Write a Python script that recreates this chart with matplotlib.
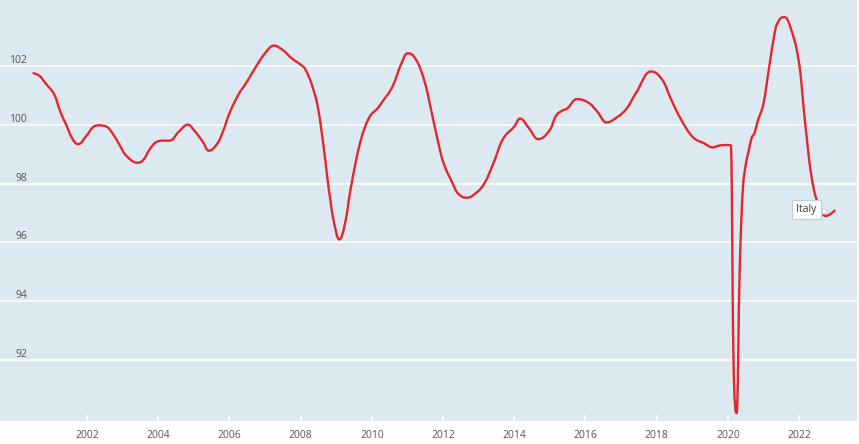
import pandas as pd
import matplotlib
matplotlib.use("Agg")
import matplotlib.pyplot as plt
import matplotlib.dates as mdates
from matplotlib import transforms
from matplotlib.path import Path
from matplotlib.patches import PathPatch

# monthly readings taken off the reference chart (Italy)
months = [
    "2000-07", "2000-09", "2000-11", "2001-02", "2001-04", "2001-06", "2001-08", "2001-10",
    "2002-01", "2002-03", "2002-05", "2002-08", "2002-10", "2002-12", "2003-02", "2003-06",
    "2003-08", "2003-10", "2003-12", "2004-03", "2004-05", "2004-08", "2004-11", "2005-01",
    "2005-04", "2005-06", "2005-09", "2005-11", "2006-01", "2006-04", "2006-07", "2006-10",
    "2007-01", "2007-04", "2007-07", "2007-10", "2008-02", "2008-03", "2008-05", "2008-07",
    "2008-09", "2008-10", "2008-11", "2008-12", "2009-02", "2009-04", "2009-06", "2009-09",
    "2009-12", "2010-03", "2010-05", "2010-08", "2010-11", "2011-01", "2011-04", "2011-07",
    "2011-09", "2011-11", "2012-01", "2012-04", "2012-06", "2012-09", "2012-12", "2013-03",
    "2013-06", "2013-09", "2014-01", "2014-03", "2014-06", "2014-09", "2015-01", "2015-03",
    "2015-05", "2015-07", "2015-10", "2016-02", "2016-05", "2016-08", "2016-12", "2017-03",
    "2017-06", "2017-11", "2018-03", "2018-06", "2018-09", "2019-01", "2019-05", "2019-08",
    "2019-10", "2020-01", "2020-02", "2020-03", "2020-04", "2020-05", "2020-06", "2020-07",
    "2020-08", "2020-09", "2020-10", "2020-11", "2021-01", "2021-03", "2021-05", "2021-06",
    "2021-07", "2021-08", "2021-10", "2022-01", "2022-03", "2022-05", "2022-07", "2022-10",
    "2023-01",
]
italy = [
    101.75, 101.66, 101.41, 101.01, 100.45, 100.0, 99.54, 99.34,
    99.65, 99.91, 99.98, 99.91, 99.65, 99.31, 98.97, 98.71,
    98.80, 99.14, 99.39, 99.46, 99.46, 99.77, 100.0, 99.82,
    99.43, 99.12, 99.37, 99.82, 100.39, 101.01, 101.47, 101.98,
    102.43, 102.69, 102.54, 102.26, 101.96, 101.81, 101.30, 100.50,
    99.05, 98.20, 97.45, 96.80, 96.10, 96.65, 97.89, 99.37,
    100.22, 100.56, 100.84, 101.30, 102.09, 102.43, 102.20, 101.41,
    100.50, 99.57, 98.75, 98.06, 97.67, 97.52, 97.67, 98.01,
    98.69, 99.48, 99.94, 100.21, 99.88, 99.51, 99.82, 100.28,
    100.47, 100.56, 100.87, 100.75, 100.45, 100.08, 100.28, 100.56,
    101.07, 101.81, 101.52, 100.84, 100.22, 99.60, 99.37, 99.23,
    99.29, 99.31, 99.30, 91.6, 90.2, 95.0, 97.7, 98.6,
    99.1, 99.55, 99.72, 100.11, 100.73, 101.98, 103.22, 103.5,
    103.63, 103.66, 103.34, 102.09, 100.16, 98.40, 97.44, 96.90,
    97.08,
]
year_ticks = list(range(2002, 2023, 2))
value_ticks = [92, 94, 96, 98, 100, 102]

dates = pd.to_datetime(months)


def spline_path(xs, ys, smoothing=1.5):
    # bezier curve through the points, same idea as a highcharts "spline" series
    n = len(xs)
    lc = [None] * n
    rc = [None] * n
    d = smoothing + 1
    for i in range(1, n - 1):
        x, y = xs[i], ys[i]
        px, py = xs[i - 1], ys[i - 1]
        nx, ny = xs[i + 1], ys[i + 1]
        lx, ly = (smoothing * x + px) / d, (smoothing * y + py) / d
        rx, ry = (smoothing * x + nx) / d, (smoothing * y + ny) / d
        corr = (ry - ly) * (rx - x) / (rx - lx) + y - ry
        ly += corr
        ry += corr
        if ly > py and ly > y:
            ly = max(py, y)
            ry = 2 * y - ly
        elif ly < py and ly < y:
            ly = min(py, y)
            ry = 2 * y - ly
        if ry > ny and ry > y:
            ry = max(ny, y)
            ly = 2 * y - ry
        elif ry < ny and ry < y:
            ry = min(ny, y)
            ly = 2 * y - ry
        lc[i] = (lx, ly)
        rc[i] = (rx, ry)
    verts = [(xs[0], ys[0])]
    codes = [Path.MOVETO]
    for i in range(1, n):
        c1 = rc[i - 1] or (xs[i - 1], ys[i - 1])
        c2 = lc[i] or (xs[i], ys[i])
        verts += [c1, c2, (xs[i], ys[i])]
        codes += [Path.CURVE4] * 3
    return Path(verts, codes)


fig = plt.figure(figsize=(8.59, 4.44), dpi=100)
ax = fig.add_axes([0, 23 / 444, 857 / 859, 421 / 444])
ax.set_facecolor("#dde9f1")
for s in ax.spines.values():
    s.set_visible(False)

xnum = list(mdates.date2num(dates))
line = PathPatch(spline_path(xnum, italy), fill=False, ec="#e5262e", lw=1.7,
                 joinstyle="round", capstyle="round", zorder=3)
ax.add_patch(line)
ax.xaxis_date()

ax.set_xlim(pd.Timestamp("1999-07-23"), pd.Timestamp("2023-08-18"))
ax.set_ylim(89.93, 104.24)

ax.set_xticks([pd.Timestamp(f"{y}-01-01") for y in year_ticks])
ax.set_xticklabels([str(y) for y in year_ticks])
ax.tick_params(axis="x", direction="in", length=4.5, width=1.3, color="white",
               pad=6.5, labelsize=7.5, labelcolor="#555555")

ax.set_yticks(value_ticks)
ax.set_yticklabels([str(v) for v in value_ticks])
ax.tick_params(axis="y", length=0, pad=-19.5, labelsize=7.5, labelcolor="#555555")
for lab in ax.get_yticklabels():
    lab.set_verticalalignment("bottom")
    lab.set_horizontalalignment("right")

ax.grid(axis="y", color="white", lw=1.1, zorder=1)
ax.set_axisbelow(True)

for lab in ax.get_xticklabels() + ax.get_yticklabels():
    lab.set_family(["Open Sans", "DejaVu Sans"])

# series label at the last point
ax.annotate("Italy", xy=(dates[-1], italy[-1]), xytext=(-28, 1), textcoords="offset pixels",
            ha="center", va="center", fontsize=7.5, color="#333d47", family=["Open Sans", "DejaVu Sans"],
            bbox=dict(boxstyle="square,pad=0.4", fc="white", ec="#b9cddd", lw=0.8), zorder=5)
ptr = transforms.offset_copy(ax.transData, fig=fig, x=-10, y=0, units="dots")
ax.plot([dates[-1]], [italy[-1]], marker=">", ms=5, mfc="white", mec="#b9cddd", mew=0.6,
        transform=ptr, zorder=6)

fig.savefig("out.png", dpi=100)
